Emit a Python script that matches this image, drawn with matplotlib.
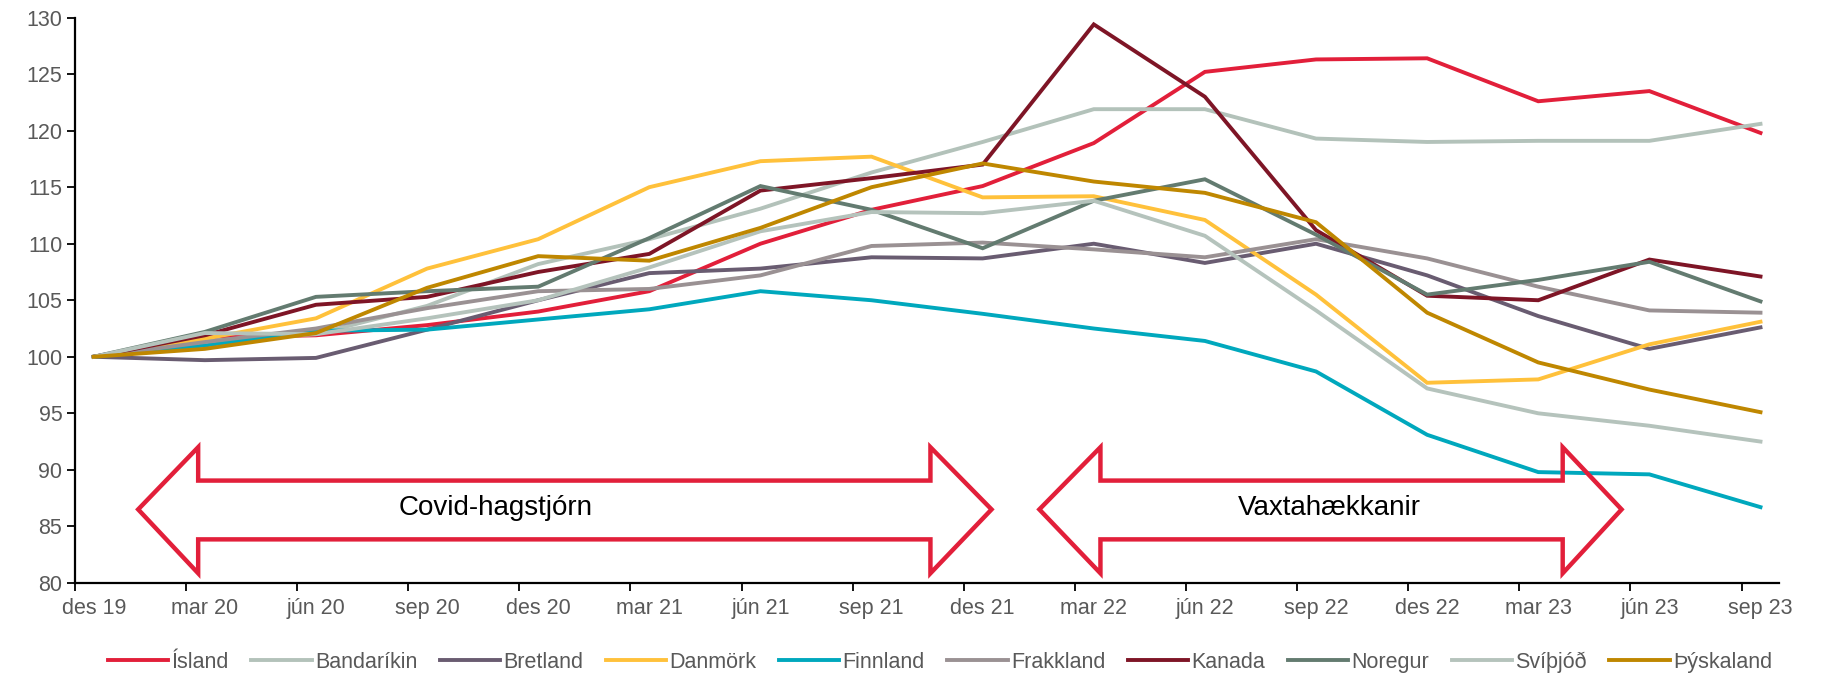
import numpy as np
import matplotlib
matplotlib.use("Agg")
import matplotlib.pyplot as plt
from matplotlib.patches import Polygon

plt.rcParams['font.family'] = ['Liberation Sans', 'DejaVu Sans']

categories = ["des 19", "mar 20", "jún 20", "sep 20", "des 20", "mar 21", "jún 21", "sep 21",
              "des 21", "mar 22", "jún 22", "sep 22", "des 22", "mar 23", "jún 23", "sep 23"]

island      = [100, 101.7, 101.9, 102.8, 104.0, 105.8, 110.0, 113.0, 115.1, 118.9, 125.2, 126.3, 126.4, 122.6, 123.5, 119.8]
bandarikin  = [100, 101.4, 102.0, 104.5, 108.2, 110.4, 113.1, 116.3, 119.0, 121.9, 121.9, 119.3, 119.0, 119.1, 119.1, 120.6]
bretland    = [100, 99.7, 99.9, 102.4, 105.0, 107.4, 107.8, 108.8, 108.7, 110.0, 108.3, 110.0, 107.2, 103.6, 100.7, 102.6]
danmork     = [100, 101.6, 103.4, 107.8, 110.4, 115.0, 117.3, 117.7, 114.1, 114.2, 112.1, 105.5, 97.7, 98.0, 101.1, 103.1]
finnland    = [100, 101.0, 102.3, 102.4, 103.3, 104.2, 105.8, 105.0, 103.8, 102.5, 101.4, 98.7, 93.1, 89.8, 89.6, 86.7]
frakkland   = [100, 101.3, 102.5, 104.3, 105.8, 106.0, 107.2, 109.8, 110.1, 109.5, 108.8, 110.4, 108.7, 106.2, 104.1, 103.9]
kanada      = [100, 101.9, 104.6, 105.3, 107.5, 109.1, 114.7, 115.8, 117.0, 129.4, 123.0, 111.2, 105.4, 105.0, 108.6, 107.1]
noregur     = [100, 102.2, 105.3, 105.8, 106.2, 110.5, 115.1, 113.0, 109.6, 113.8, 115.7, 110.8, 105.5, 106.8, 108.4, 104.9]
svithjod    = [100, 102.1, 102.0, 103.4, 105.0, 107.9, 111.1, 112.8, 112.7, 113.8, 110.7, 104.1, 97.2, 95.0, 93.9, 92.5]
thyskaland  = [100, 100.7, 102.1, 106.1, 108.9, 108.5, 111.4, 115.0, 117.1, 115.5, 114.5, 111.9, 103.9, 99.5, 97.1, 95.1]

series_names = ["Ísland", "Bandaríkin", "Bretland", "Danmörk", "Finnland",
                "Frakkland", "Kanada", "Noregur", "Svíþjóð", "Þýskaland"]
series_values = [island, bandarikin, bretland, danmork, finnland,
                 frakkland, kanada, noregur, svithjod, thyskaland]
series_colors = ["#E21F3A", "#B3C2BA", "#695C71", "#FFC13B", "#00A8BD",
                 "#9A9193", "#7E1526", "#637B70", "#B5C3BC", "#BF8700"]

arrow_labels = ["Covid-hagstjórn", "Vaxtahækkanir"]

fig = plt.figure(figsize=(18.25, 6.77), dpi=100)
ax = fig.add_axes([0.041, 0.139, 0.934, 0.835])

x = np.arange(len(categories))
for name, vals, col in zip(series_names, series_values, series_colors):
    ax.plot(x, vals, color=col, lw=2.8, label=name, solid_joinstyle='miter')

off = 0.17
ax.set_xlim(-off, len(categories) - 1 + off)
ax.set_ylim(80, 130)
ax.set_yticks(np.arange(80, 131, 5))
ax.set_xticks(x - off)
ax.set_xticklabels([])
ax.set_xticks(x, labels=categories, minor=True)
ax.tick_params(axis='x', which='major', length=6, width=1.3, direction='out', color='black')
ax.tick_params(axis='x', which='minor', length=0, pad=11, labelsize=15.5, labelcolor='#595959')
ax.tick_params(axis='y', length=6, width=1.3, direction='out', labelsize=15.5, labelcolor='#595959', pad=3)
for s in ['top', 'right']:
    ax.spines[s].set_visible(False)
for s in ['left', 'bottom']:
    ax.spines[s].set_linewidth(1.6)
    ax.spines[s].set_color('black')

def double_arrow(xl_tip, xl_base, xr_base, xr_tip, y_mid, shaft_lo, shaft_hi, head_lo, head_hi):
    pts = [(xl_tip, y_mid), (xl_base, head_hi), (xl_base, shaft_hi), (xr_base, shaft_hi),
           (xr_base, head_hi), (xr_tip, y_mid), (xr_base, head_lo), (xr_base, shaft_lo),
           (xl_base, shaft_lo), (xl_base, head_lo)]
    ax.add_patch(Polygon(pts, closed=True, facecolor='none', edgecolor='#E21F3A',
                         lw=3.2, joinstyle='miter', zorder=5))

double_arrow(0.40, 0.94, 7.53, 8.08, 86.5, 83.85, 89.05, 80.85, 92.0)
double_arrow(8.51, 9.06, 13.22, 13.75, 86.5, 83.85, 89.05, 80.85, 92.0)
ax.text(3.62, 86.6, arrow_labels[0], ha='center', va='center', fontsize=20, color='black', zorder=6)
ax.text(11.12, 86.6, arrow_labels[1], ha='center', va='center', fontsize=20, color='black', zorder=6)

leg = fig.legend(loc='center', bbox_to_anchor=(0.515, 0.022), ncol=10, frameon=False,
                 fontsize=15.5, handlelength=2.8, handletextpad=0.15, columnspacing=1.05,
                 labelcolor='#595959')

fig.savefig("out.png", dpi=100)
